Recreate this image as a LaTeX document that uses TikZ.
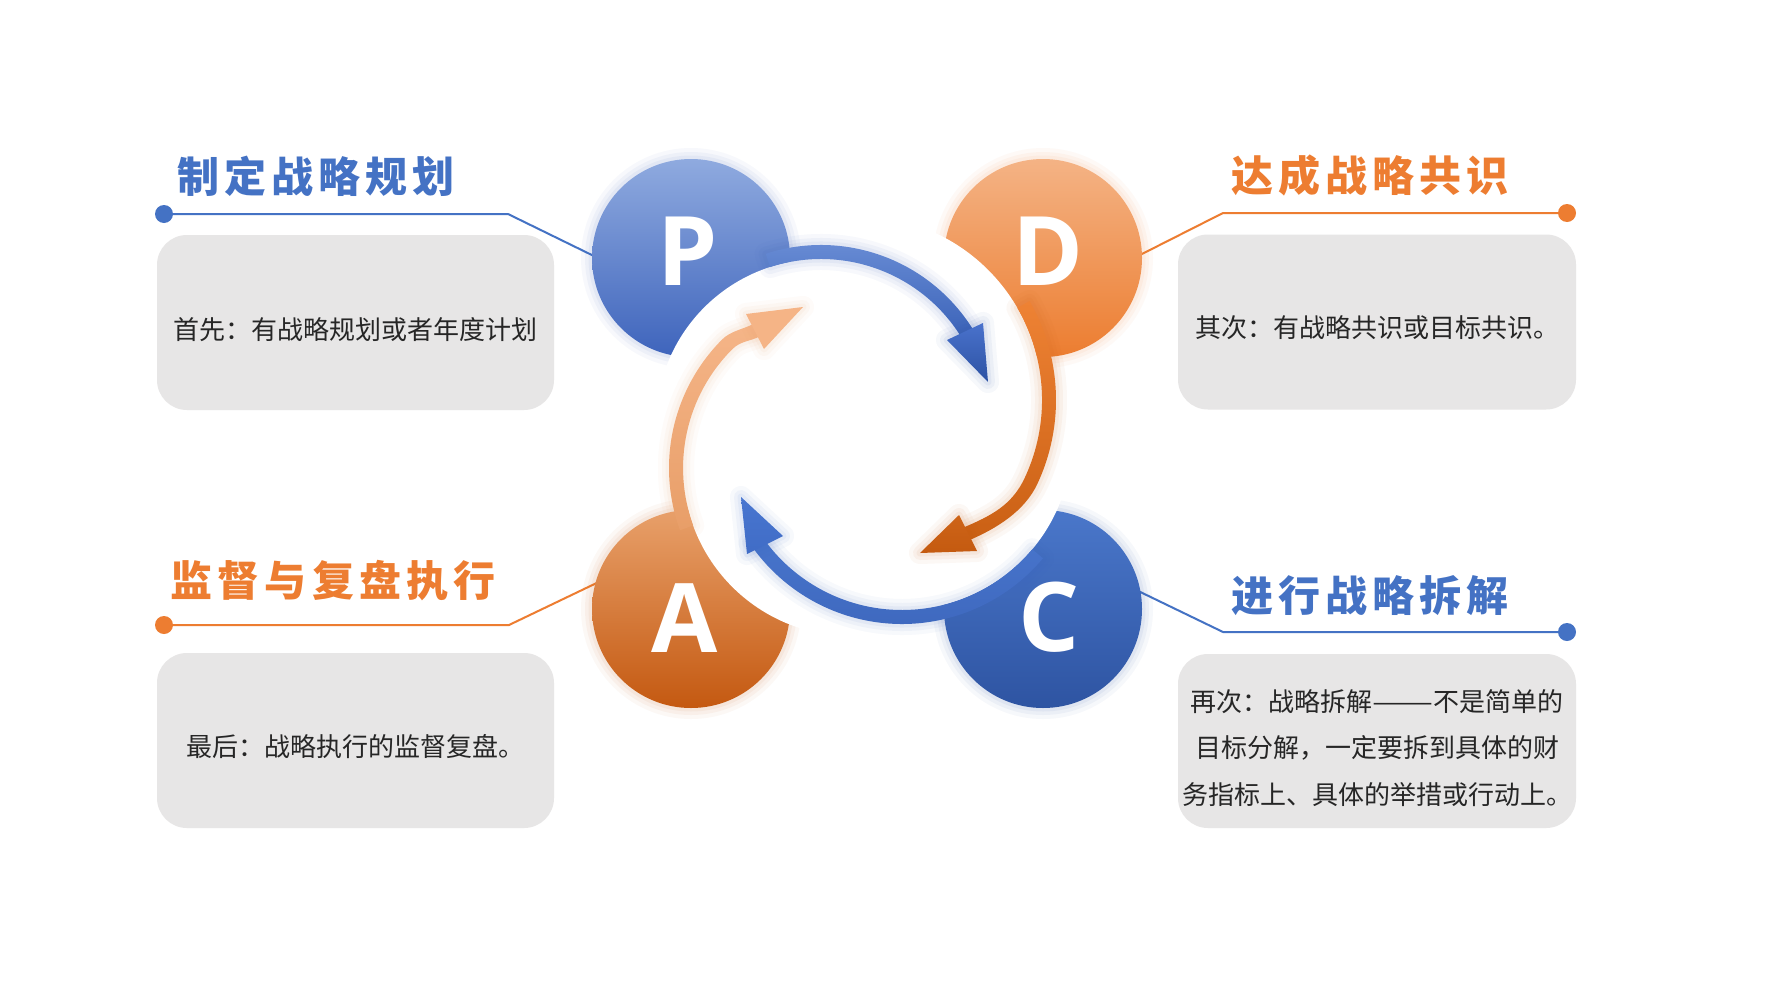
\documentclass[tikz,border=0pt]{standalone}
\usepackage{graphicx}
\usepackage{fontspec}
\usetikzlibrary{calc}
\newfontfamily\cjk{Noto Sans CJK SC}
\newfontfamily\cjkT{Noto Sans CJK SC}[LetterSpace=12]
\newfontfamily\latinbold{Open Sans}
\definecolor{oblue}{RGB}{68,114,196}
\definecolor{oorange}{RGB}{237,125,49}
\definecolor{boxgray}{RGB}{231,230,230}
\definecolor{txt}{RGB}{38,38,38}
\definecolor{pTop}{RGB}{143,170,223}\definecolor{pBot}{RGB}{62,100,188}
\definecolor{dTop}{RGB}{244,179,133}\definecolor{dBot}{RGB}{236,125,48}
\definecolor{aTop}{RGB}{232,160,106}\definecolor{aBot}{RGB}{196,89,17}
\definecolor{cTop}{RGB}{74,119,202}\definecolor{cBot}{RGB}{46,84,162}
\definecolor{btTop}{RGB}{110,145,216}\definecolor{btBot}{RGB}{58,98,184}
\definecolor{bhTop}{RGB}{74,114,204}\definecolor{bhBot}{RGB}{44,82,163}
\definecolor{orTop}{RGB}{238,130,52}\definecolor{orBot}{RGB}{202,96,20}
\definecolor{ohTop}{RGB}{206,100,24}\definecolor{ohBot}{RGB}{196,90,16}
\definecolor{bbTop}{RGB}{72,117,204}\definecolor{bbBot}{RGB}{62,104,190}
\definecolor{bbhTop}{RGB}{72,118,208}\definecolor{bbhBot}{RGB}{64,108,198}
\definecolor{olTop}{RGB}{245,181,136}\definecolor{olBot}{RGB}{232,158,104}
\definecolor{olHead}{RGB}{245,180,134}
\begin{document}
\begin{tikzpicture}[x=1pt,y=-1pt,
  infobox/.style={fill=boxgray, rounded corners=30pt, minimum width=397pt, minimum height=175pt, inner sep=0pt},
  bodytext/.style={text=txt, font=\cjk\fontsize{26pt}{46.5pt}\selectfont, inner sep=0pt},
  titletext/.style={font=\cjkT\bfseries\fontsize{42pt}{50pt}\selectfont, inner sep=0pt},
  leader/.style={line width=2pt},
  letter/.style={text=white, font=\latinbold\bfseries\fontsize{96pt}{100pt}\selectfont, anchor=base, inner sep=0pt},
  glow/.style={
    preaction={draw=#1, draw opacity=0.04, line width=22pt, line join=round},
    preaction={draw=#1, draw opacity=0.05, line width=14pt, line join=round},
    preaction={draw=#1, draw opacity=0.06, line width=7pt, line join=round}},
]
\useasboundingbox (0,0) rectangle (1782,980);
\fill[white] (0,0) rectangle (1782,980);

% centres of the four discs and of the white cuts
\coordinate (P) at (691,258);
\coordinate (D) at (1043,258);
\coordinate (A) at (691,609);
\coordinate (C) at (1043,609);
\coordinate (cP) at (821,424);
\coordinate (cD) at (858,400);
\coordinate (cC) at (902,440);
\coordinate (cA) at (851,468);

% info boxes
\node[infobox] (bP) at (355.5,322.5) {};
\node[infobox, minimum width=398pt] (bD) at (1377,322) {};
\node[infobox] (bA) at (355.5,740.5) {};
\node[infobox, minimum width=398pt, minimum height=174pt] (bC) at (1377,741) {};

\node[bodytext] (xP) at (355.5,330) {首先：有战略规划或者年度计划};
\node[bodytext] (xD) at (1377,328) {其次：有战略共识或目标共识。};
\node[bodytext] (xA) at (355.5,747) {最后：战略执行的监督复盘。};
\node[bodytext, align=center] (xC) at (1377,748) {再次：战略拆解\scalebox{1.4}[1]{——}不是简单的\\目标分解，一定要拆到具体的财\\务指标上、具体的举措或行动上。};

% titles
\node[titletext, text=oblue] (tP) at (316,176.5) {制定战略规划};
\node[titletext, text=oorange] (tD) at (1370,175) {达成战略共识};
\node[titletext, text=oorange] (tA) at (333,581) {监督与复盘执行};
\node[titletext, text=oblue] (tC) at (1370,596) {进行战略拆解};

% leader lines
\coordinate (dP) at (164,214); \coordinate (kP) at (508,214); \coordinate (eP) at (600,259);
\coordinate (dD) at (1567,213); \coordinate (kD) at (1223,213); \coordinate (eD) at (1134,258);
\coordinate (dA) at (164,625); \coordinate (kA) at (509,625); \coordinate (eA) at (605,579);
\coordinate (dC) at (1567,632); \coordinate (kC) at (1223,632); \coordinate (eC) at (1132,588);
\draw[leader, oblue] (dP) -- (kP) -- (eP);
\fill[oblue] (dP) circle[radius=9];
\draw[leader, oorange] (dD) -- (kD) -- (eD);
\fill[oorange] (dD) circle[radius=9];
\draw[leader, oorange] (dA) -- (kA) -- (eA);
\fill[oorange] (dA) circle[radius=9];
\draw[leader, oblue] (dC) -- (kC) -- (eC);
\fill[oblue] (dC) circle[radius=9];

% discs
\shade[glow=pBot, top color=pTop, bottom color=pBot] (P) circle[radius=99];
\shade[glow=dBot, top color=dTop, bottom color=dBot] (D) circle[radius=99];
\shade[glow=aBot, top color=aTop, bottom color=aBot] (A) circle[radius=99];
\shade[glow=cBot, top color=cTop, bottom color=cBot] (C) circle[radius=99];
% white cuts (also removing the glow inside the cut)
\begin{scope}\clip (P) circle[radius=112]; \fill[white] (cP) circle[radius=165]; \end{scope}
\begin{scope}\clip (D) circle[radius=112]; \fill[white] (cD) circle[radius=184]; \end{scope}
\begin{scope}\clip (A) circle[radius=112]; \fill[white] (cA) circle[radius=168]; \end{scope}
\begin{scope}\clip (C) circle[radius=112]; \fill[white] (cC) circle[radius=170]; \end{scope}

% arrow P -> D (blue, top)
\shade[glow=btBot, top color=btTop, bottom color=btBot]
  ($(cP)+(-108:179)$) arc[start angle=-108, end angle=-31, radius=179]
  -- ($(cP)+(-31:165)$) arc[start angle=-31, end angle=-108, radius=165] -- cycle;
\shade[glow=bhBot, top color=bhTop, bottom color=bhBot]
  (947,340) -- (988,382) -- (983,323) -- cycle;

% arrow D -> C (orange, right)
\shade[glow=orBot, top color=orTop, bottom color=orBot]
  ($(cD)+(-30:198)$) arc[start angle=-30, end angle=25, radius=198]
  .. controls (1024.7,511.2) and (996.3,528.7) .. (968.7,540.4)
  -- (963.3,527.6) .. controls (990.9,515.9) and (1012.1,505.2) .. (1024.8,477.7)
  arc[start angle=25, end angle=-30, radius=184] -- cycle;
\shade[glow=ohBot, top color=ohTop, bottom color=ohBot]
  (959,515) -- (920,553) -- (977,551) -- cycle;

% arrow C -> A (blue, bottom)
\shade[glow=bbBot, top color=bbTop, bottom color=bbBot]
  ($(cC)+(40:184)$) arc[start angle=40, end angle=146, radius=184]
  -- ($(cC)+(146:170)$) arc[start angle=146, end angle=40, radius=170] -- cycle;
\shade[glow=bbhBot, top color=bbhTop, bottom color=bbhBot]
  (741,497) -- (747,554) -- (783,536) -- cycle;

% arrow A -> P (orange, left)
\shade[glow=olBot, top color=olTop, bottom color=olBot]
  ($(cA)+(160:182)$) arc[start angle=160, end angle=225, radius=182]
  .. controls (730.85,330.85) and (743.1,329.3) .. (753.8,323.8)
  -- (760.2,336.2) .. controls (749.5,341.7) and (740.75,340.75) .. (732.25,349.25)
  arc[start angle=225, end angle=160, radius=168] -- cycle;
\fill[glow=olBot, olHead] (746,314) -- (803,307) -- (764,349) -- cycle;

% letters
\node[letter] (lP) at (688,285) {P};
\node[letter] (lD) at (1048.5,285) {D};
\node[letter] (lA) at (685,652) {A};
\node[letter] (lC) at (1049,651) {C};
\end{tikzpicture}
\end{document}
